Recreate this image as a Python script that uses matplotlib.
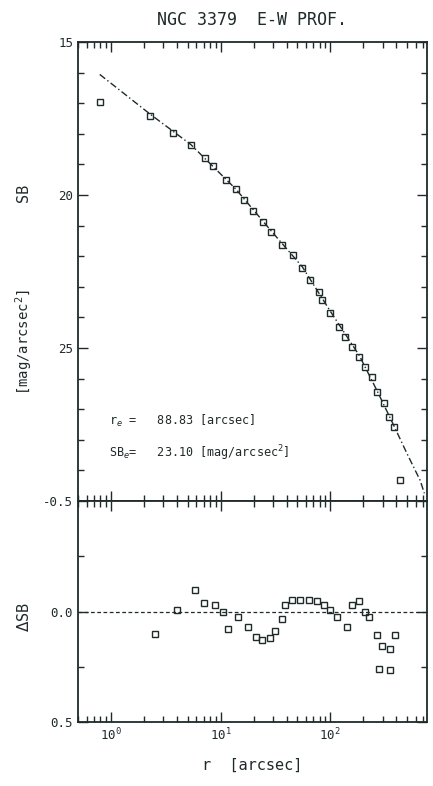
import numpy as np
import matplotlib
matplotlib.use('Agg')
import matplotlib.pyplot as plt
from matplotlib.ticker import LogLocator, MultipleLocator, NullFormatter, FixedLocator

plt.rcParams['font.family'] = ['DejaVu Sans Mono']
ink = '#1f2a2a'

# profile data (r in arcsec, SB in mag/arcsec^2)
r_prof = [0.79, 2.26, 3.66, 5.34, 7.16, 8.46, 11.1, 13.7, 16.5, 19.9, 24.1, 28.5,
          36.6, 45.2, 55.6, 65.8, 79.4, 84.6, 100, 120, 137, 158, 184, 208,
          240, 267, 309, 344, 381, 433]
sb_prof = [16.97, 17.43, 17.97, 18.38, 18.78, 19.04, 19.5, 19.82, 20.15, 20.51, 20.87, 21.2,
           21.62, 21.95, 22.38, 22.77, 23.16, 23.43, 23.85, 24.31, 24.64, 24.96, 25.29, 25.62,
           25.95, 26.44, 26.8, 27.26, 27.58, 29.3]

# fitted model line
r_fit = [0.79, 2.26, 5.34, 13.7, 28.5, 55.6, 100, 184, 267, 381, 500, 660, 720]
sb_fit = [16.06, 17.35, 18.35, 19.8, 21.15, 22.35, 23.8, 25.25, 26.4, 27.55, 28.45, 29.33, 29.75]

# residuals
r_res = [2.51, 3.98, 5.8, 7.1, 8.8, 10.4, 11.6, 14.3, 17.6, 20.8, 24, 27.9, 31.6, 36.6,
         39, 45, 53, 64.5, 76, 88, 100, 115, 141, 158, 182, 209, 225, 267, 297, 351,
         390, 279, 351]
d_res = [0.10, -0.005, -0.096, -0.04, -0.03, 0.0, 0.08, 0.024, 0.072, 0.115, 0.13, 0.12, 0.09,
         0.034, -0.03, -0.053, -0.053, -0.053, -0.048, -0.03, -0.005, 0.024, 0.072, -0.03,
         -0.048, 0.0, 0.024, 0.105, 0.154, 0.17, 0.105, 0.26, 0.265]

re_txt = 'r$_e$ =   88.83 [arcsec]'
sbe_txt = 'SB$_e$=   23.10 [mag/arcsec$^2$]'

fig = plt.figure(figsize=(4.33, 7.86), dpi=100)
ax1 = fig.add_axes([0.180, 0.3626, 0.806, 0.584])
ax2 = fig.add_axes([0.180, 0.0814, 0.806, 0.2812], sharex=ax1)

for ax in (ax1, ax2):
    ax.set_xscale('log')
    for s in ax.spines.values():
        s.set_color(ink)
        s.set_linewidth(1.3)
    ax.tick_params(which='both', direction='in', top=True, right=True, colors=ink,
                   labelsize=9, width=1.0)
    ax.tick_params(which='major', length=7)
    ax.tick_params(which='minor', length=4)
    ax.xaxis.set_major_locator(LogLocator(base=10, numticks=10))
    ax.xaxis.set_minor_locator(LogLocator(base=10, subs=np.arange(2, 10), numticks=20))

# upper panel
ax1.plot(r_fit, sb_fit, linestyle=(0, (5, 2, 1, 2)), color=ink, lw=1.0)
ax1.plot(r_prof, sb_prof, linestyle='none', marker='s', ms=5, mfc='none', mec=ink, mew=1.0)
ax1.set_xlim(0.5, 760)
ax1.set_ylim(30, 15)
ax1.yaxis.set_major_locator(FixedLocator([15, 20, 25]))
ax1.yaxis.set_minor_locator(MultipleLocator(1))
ax1.tick_params(axis='x', labelbottom=False)
ax1.set_title('NGC 3379  E-W PROF.', fontsize=12, color=ink, pad=12)
ax1.text(0.09, 0.165, re_txt, transform=ax1.transAxes, fontsize=8.5, color=ink)
ax1.text(0.09, 0.095, sbe_txt, transform=ax1.transAxes, fontsize=8.5, color=ink)
fig.text(0.055, 0.755, 'SB', rotation=90, fontsize=11, color=ink, ha='center', va='center')
fig.text(0.055, 0.565, '[mag/arcsec$^2$]', rotation=90, fontsize=10, color=ink,
         ha='center', va='center')

# lower panel
ax2.axhline(0, linestyle=(0, (3, 2)), color=ink, lw=0.9)
ax2.plot(r_res, d_res, linestyle='none', marker='s', ms=5, mfc='none', mec=ink, mew=1.0)
ax2.set_ylim(0.5, -0.5)
ax2.yaxis.set_major_locator(FixedLocator([-0.5, 0.0, 0.5]))
ax2.yaxis.set_minor_locator(MultipleLocator(0.25))
ax2.set_yticklabels(['-0.5', '0.0', '0.5'])
ax2.set_xlabel('r  [arcsec]', fontsize=11, color=ink, labelpad=10)
fig.text(0.055, 0.215, r'$\Delta$SB', rotation=90, fontsize=11, color=ink,
         ha='center', va='center')

plt.savefig('out.png', dpi=100)
